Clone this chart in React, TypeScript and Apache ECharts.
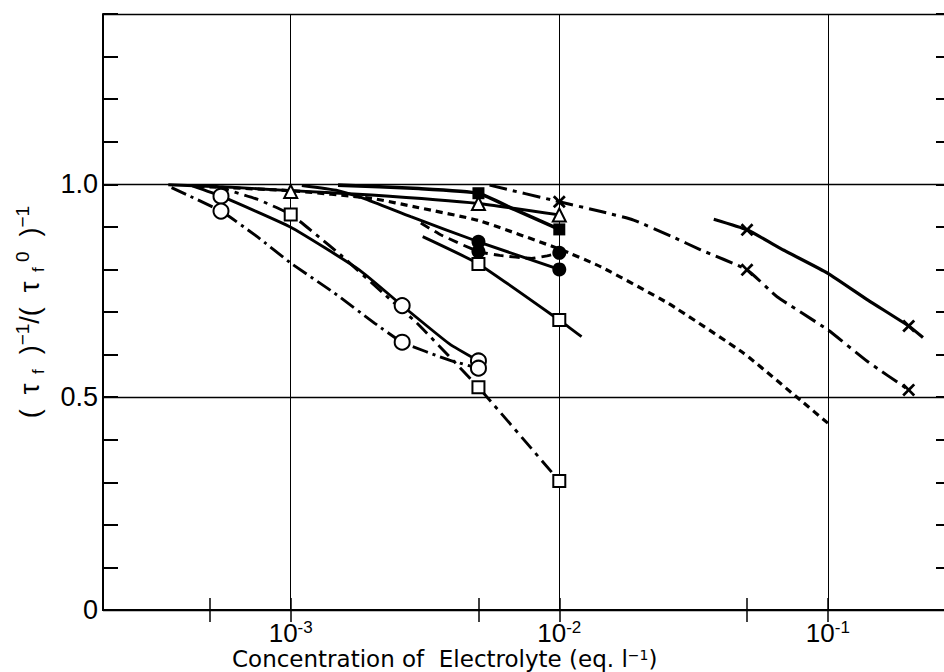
import React, { useEffect, useRef } from "react";
import * as echarts from "echarts";

// ---------- axis settings ----------
const X_MIN = 2e-4;
const X_MAX = 0.3;
const Y_MIN = 0;
const Y_MAX = 1.4;
const xTickValues = [5e-4, 1e-3, 5e-3, 1e-2, 5e-2, 1e-1];
const yLabelValues = [0, 0.5, 1.0];
const yLabelTexts = ["0", "0.5", "1.0"];

// ---------- data (concentration, ratio) ----------
// open circles, solid curve
const circSolidPts = [[5.5e-4, 0.972], [2.6e-3, 0.715], [5e-3, 0.585]];
const circSolidCurve = [[4.3e-4, 0.996], [5.5e-4, 0.972], [1e-3, 0.899], [1.8e-3, 0.799], [2.6e-3, 0.715], [3.9e-3, 0.625], [5e-3, 0.585]];
// open circles, dash-dot curve
const circDashPts = [[5.5e-4, 0.937], [2.6e-3, 0.629], [5e-3, 0.568]];
const circDashCurve = [[3.6e-4, 0.992], [5.5e-4, 0.937], [7.5e-4, 0.877], [1e-3, 0.815], [1.45e-3, 0.745], [2.05e-3, 0.674], [2.6e-3, 0.629], [3.9e-3, 0.587], [5e-3, 0.568]];
// open squares, dash-dot curve
const sqDashPts = [[1e-3, 0.929], [5e-3, 0.523], [1e-2, 0.303]];
const sqDashCurve = [[5.2e-4, 0.996], [7.5e-4, 0.965], [1e-3, 0.929], [1.22e-3, 0.886], [1.56e-3, 0.83], [2.2e-3, 0.745], [2.95e-3, 0.674], [5e-3, 0.523], [1e-2, 0.303]];
// open squares, solid curve
const sqSolidPts = [[5e-3, 0.813], [1e-2, 0.681]];
const sqSolidCurve = [[3.1e-3, 0.877], [5e-3, 0.813], [1e-2, 0.681], [1.21e-2, 0.642]];
// filled circles, solid curve
const dotSolidPts = [[5e-3, 0.865], [1e-2, 0.8]];
const dotSolidCurve = [[1.1e-3, 0.997], [1.5e-3, 0.985], [1.87e-3, 0.967], [2.8e-3, 0.924], [5e-3, 0.865], [1e-2, 0.8]];
// filled circles, dashed curve
const dotDashPts = [[5e-3, 0.842], [1e-2, 0.839]];
const dotDashCurve = [[3.05e-3, 0.909], [3.63e-3, 0.881], [5e-3, 0.842], [6e-3, 0.833], [7.9e-3, 0.826], [9e-3, 0.832], [1e-2, 0.839]];
// filled squares, solid curve
const sqFillPts = [[5e-3, 0.979], [1e-2, 0.894]];
const sqFillCurve = [[1.5e-3, 0.998], [3e-3, 0.99], [5e-3, 0.979], [6.8e-3, 0.941], [1e-2, 0.894]];
// open triangles, solid curve
const triPts = [[1e-3, 0.983], [5e-3, 0.955], [1e-2, 0.928]];
const triCurve = [[3.5e-4, 0.999], [6e-4, 0.993], [1e-3, 0.985], [2e-3, 0.975], [5e-3, 0.955], [1e-2, 0.928]];
// short-dashed curve without markers
const shortDashCurve = [[4.5e-4, 0.995], [1e-3, 0.985], [2e-3, 0.967], [3e-3, 0.945], [5e-3, 0.915], [1e-2, 0.848], [1.43e-2, 0.806], [2.55e-2, 0.72], [4.86e-2, 0.603], [7.9e-2, 0.493], [1e-1, 0.439]];
// crosses, solid curve
const crossSolidPts = [[0.05, 0.893], [0.2, 0.667]];
const crossSolidCurve = [[0.0376, 0.918], [0.05, 0.893], [0.0686, 0.845], [0.1, 0.791], [0.141, 0.728], [0.2, 0.667], [0.226, 0.64]];
// crosses, dash-dot curve
const crossDashPts = [[1e-2, 0.959], [0.05, 0.799], [0.2, 0.517]];
const crossDashCurve = [[5.5e-3, 0.998], [1e-2, 0.959], [1.43e-2, 0.936], [1.89e-2, 0.916], [2.63e-2, 0.877], [3.36e-2, 0.846], [0.05, 0.799], [0.0647, 0.736], [0.1, 0.658], [0.141, 0.583], [0.2, 0.517]];

const crossPath =
  "path://M0,3L3,0L10,7L17,0L20,3L13,10L20,17L17,20L10,13L3,20L0,17L7,10Z";

const NUM_FONT = "'Liberation Sans Narrow', 'Liberation Sans', Arial, sans-serif";
const NAME_FONT = "'Liberation Sans', Arial, sans-serif";
const TITLE_FONT = "'DejaVu Sans', sans-serif";

function curve(name: string, data: number[][], dash: any, width = 2.9) {
  return {
    name,
    type: "line",
    data,
    smooth: 0.15,
    showSymbol: false,
    symbol: "none",
    z: 2,
    lineStyle: { color: "#000", width, type: dash },
    silent: true,
  };
}

function marks(name: string, data: number[][], symbol: string, size: number, filled: boolean) {
  return {
    name,
    type: "scatter",
    data,
    symbol,
    symbolSize: size,
    z: 4,
    itemStyle: {
      color: filled ? "#000" : "#fff",
      borderColor: "#000",
      borderWidth: filled ? 0 : 2,
      opacity: 1,
    },
    silent: true,
  };
}

function isDecade(v: number) {
  const l = Math.log10(v);
  return Math.abs(l - Math.round(l)) < 1e-6;
}

export default function App() {
  const ref = useRef<HTMLDivElement>(null);
  useEffect(() => {
    if (!ref.current) return;
    const chart = echarts.init(ref.current, null, { renderer: "svg" });
    const xCommon = {
      type: "log",
      logBase: 10,
      min: X_MIN,
      max: X_MAX,
    };
    const option: any = {
      animation: false,
      backgroundColor: "#fff",
      grid: { left: 103, right: 4, top: 14, bottom: 62, containLabel: false },
      xAxis: [
        {
          ...xCommon,
          position: "bottom",
          axisLine: { show: true, lineStyle: { color: "#000", width: 2 } },
          axisTick: { show: true, inside: true, length: 12, customValues: xTickValues, lineStyle: { color: "#000", width: 1.5 } },
          axisLabel: {
            margin: 9,
            formatter: (v: number) => (isDecade(v) ? `{b|10}{s|-${Math.abs(Math.round(Math.log10(v)))}}` : ""),
            rich: {
              b: { fontFamily: NUM_FONT, fontSize: 26, color: "#000", lineHeight: 27, verticalAlign: "bottom" },
              s: { fontFamily: NUM_FONT, fontSize: 17, color: "#000", lineHeight: 17, verticalAlign: "top" },
            },
          },
          splitLine: { show: false },
        },
        {
          ...xCommon,
          position: "top",
          axisLine: { show: true, lineStyle: { color: "#000", width: 2 } },
          axisTick: { show: true, inside: true, length: 12, customValues: xTickValues, lineStyle: { color: "#000", width: 1.5 } },
          axisLabel: { show: false },
          splitLine: { show: false },
        },
        {
          ...xCommon,
          position: "bottom",
          axisLine: { show: false },
          axisTick: { show: false },
          axisLabel: { show: false },
          splitLine: { show: true, lineStyle: { color: "#000", width: 1 } },
        },
      ],
      yAxis: [
        {
          type: "value",
          min: Y_MIN,
          max: Y_MAX,
          interval: 0.1,
          position: "left",
          axisLine: { show: true, lineStyle: { color: "#000", width: 2 } },
          axisTick: { show: true, inside: true, length: 15, lineStyle: { color: "#000", width: 2 } },
          axisLabel: {
            margin: 5,
            fontFamily: NUM_FONT,
            fontSize: 27,
            color: "#000",
            formatter: (v: number) => {
              const i = yLabelValues.findIndex((t) => Math.abs(t - v) < 1e-9);
              return i >= 0 ? yLabelTexts[i] : "";
            },
          },
          splitLine: { show: false },
          name: "{n|(  τ}{sub|  f}{n|  )}{sup|−1}{n|/(  τ}{sub|  f}{sup| 0}{n|  )}{sup|−1}",
          nameLocation: "middle",
          nameGap: 56,
          nameTextStyle: {
            rich: {
              n: { fontFamily: NAME_FONT, fontSize: 27, color: "#000", lineHeight: 34, verticalAlign: "middle" },
              sub: { fontFamily: NAME_FONT, fontSize: 17, color: "#000", lineHeight: 17, verticalAlign: "bottom" },
              sup: { fontFamily: NAME_FONT, fontSize: 19, color: "#000", lineHeight: 19, verticalAlign: "top" },
            },
          },
        },
        {
          type: "value",
          min: Y_MIN,
          max: Y_MAX,
          interval: 0.1,
          position: "right",
          axisLine: { show: true, lineStyle: { color: "#000", width: 2 } },
          axisTick: { show: true, inside: true, length: 20, lineStyle: { color: "#000", width: 2 } },
          axisLabel: { show: false },
          splitLine: { show: false },
        },
        {
          type: "value",
          min: Y_MIN,
          max: Y_MAX,
          interval: 0.5,
          position: "left",
          axisLine: { show: false },
          axisTick: { show: false },
          axisLabel: { show: false },
          splitLine: { show: true, lineStyle: { color: "#000", width: 1.3 } },
        },
      ],
      graphic: [
        {
          type: "text",
          left: 232,
          top: 647,
          silent: true,
          style: {
            text: "{n|Concentration of  Electrolyte (eq. l}{s|−1}{n|)}",
            rich: {
              n: { fontFamily: TITLE_FONT, fontSize: 23, fill: "#000", lineHeight: 22, verticalAlign: "bottom" },
              s: { fontFamily: TITLE_FONT, fontSize: 14, fill: "#000", lineHeight: 12, verticalAlign: "top" },
            },
          },
        },
      ],
      series: [
        curve("circ-solid", circSolidCurve, "solid"),
        curve("circ-dash", circDashCurve, [16, 5, 3, 5]),
        curve("sq-dash", sqDashCurve, [15, 6, 4, 6]),
        curve("sq-solid", sqSolidCurve, "solid"),
        curve("dot-solid", dotSolidCurve, "solid"),
        curve("dot-dash", dotDashCurve, [10, 6]),
        curve("sqfill-solid", sqFillCurve, "solid", 3.6),
        curve("tri-solid", triCurve, "solid"),
        curve("short-dash", shortDashCurve, [7, 5], 3.2),
        curve("cross-solid", crossSolidCurve, "solid", 3.2),
        curve("cross-dash", crossDashCurve, [18, 6, 4, 6], 3),
        marks("circ-solid-m", circSolidPts, "circle", 15, false),
        marks("circ-dash-m", circDashPts, "circle", 15, false),
        marks("sq-dash-m", sqDashPts, "rect", 12, false),
        marks("sq-solid-m", sqSolidPts, "rect", 12, false),
        marks("dot-solid-m", dotSolidPts, "circle", 14, true),
        marks("dot-dash-m", dotDashPts, "circle", 14, true),
        marks("sqfill-m", sqFillPts, "rect", 12, true),
        marks("tri-m", triPts, "triangle", 13, false),
        marks("cross-solid-m", crossSolidPts, crossPath, 13, true),
        marks("cross-dash-m", crossDashPts, crossPath, 13, true),
      ],
    };
    chart.setOption(option);
    return () => chart.dispose();
  }, []);
  return (
    <div
      style={{ position: "fixed", left: 0, top: 0, width: 944, height: 672, overflow: "hidden", background: "#fff" }}
    >
      <div ref={ref} style={{ position: "absolute", left: 0, top: 0, width: 960, height: 672 }} />
    </div>
  );
}
